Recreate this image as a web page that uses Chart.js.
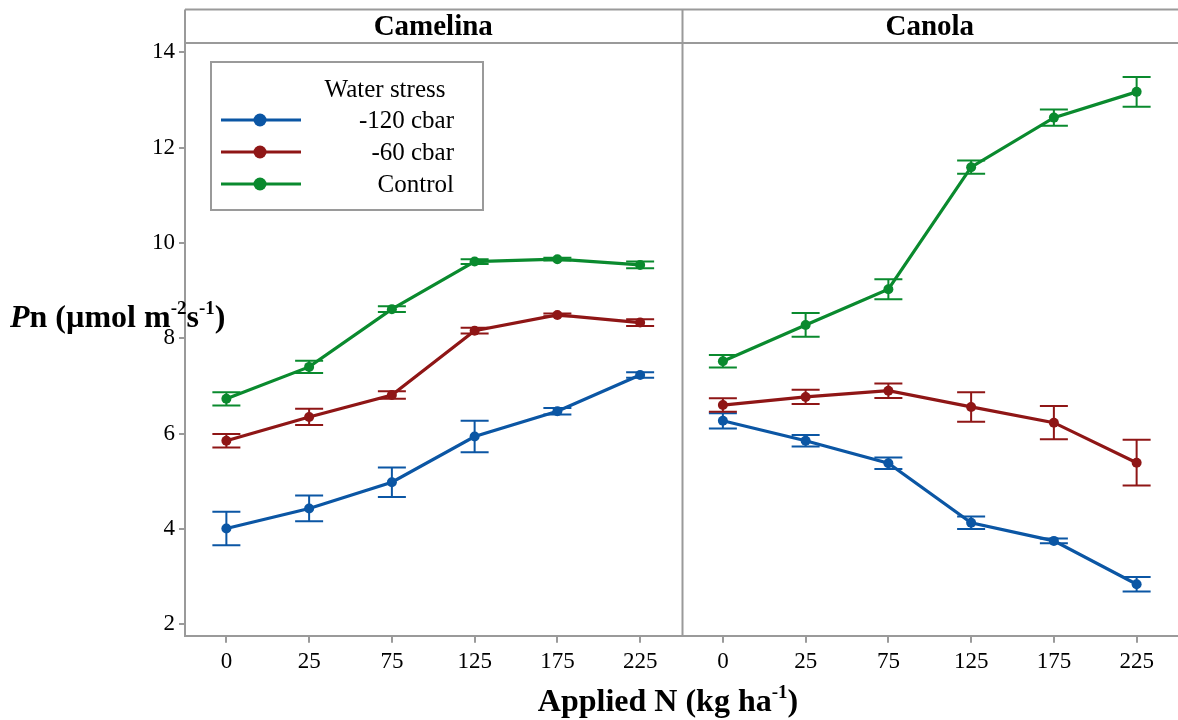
<!DOCTYPE html>
<html>
<head>
<meta charset="utf-8">
<script src="https://cdn.jsdelivr.net/npm/chart.js@4"></script>
<style>
html,body{margin:0;padding:0;background:#fff;}
#c{display:block;}
</style>
</head>
<body>
<canvas id="c" width="1178" height="720"></canvas>
<script>
const categories = ['0', '25', '75', '125', '175', '225'];
const panels = ['Camelina', 'Canola'];
const seriesNames = ['-120 cbar', '-60 cbar', 'Control'];
const legendTitle = 'Water stress';
const yTicks = [2, 4, 6, 8, 10, 12, 14];

const camelina120 = [4.01, 4.43, 4.98, 5.94, 6.47, 7.23];
const camelina120Err = [0.35, 0.27, 0.31, 0.33, 0.07, 0.06];
const camelina60 = [5.85, 6.35, 6.81, 8.16, 8.49, 8.33];
const camelina60Err = [0.14, 0.17, 0.08, 0.06, 0.03, 0.07];
const camelinaControl = [6.73, 7.40, 8.61, 9.61, 9.66, 9.54];
const camelinaControlErr = [0.14, 0.13, 0.06, 0.05, 0.03, 0.07];

const canola120 = [6.27, 5.85, 5.38, 4.13, 3.75, 2.84];
const canola120Err = [0.16, 0.12, 0.12, 0.13, 0.05, 0.15];
const canola60 = [6.60, 6.77, 6.90, 6.56, 6.23, 5.39];
const canola60Err = [0.14, 0.15, 0.15, 0.31, 0.35, 0.48];
const canolaControl = [7.52, 8.28, 9.03, 11.59, 12.63, 13.17];
const canolaControlErr = [0.13, 0.25, 0.21, 0.14, 0.17, 0.31];

const colors = ['#0b56a4', '#8f1616', '#0a8a2e'];
const SERIF = '"Liberation Serif", "Times New Roman", serif';
const GRAY = '#9a9a9a';

const panelData = [
  [[camelina120, camelina120Err], [camelina60, camelina60Err], [camelinaControl, camelinaControlErr]],
  [[canola120, canola120Err], [canola60, canola60Err], [canolaControl, canolaControlErr]]
];

const datasets = [];
panelData.forEach((series, p) => {
  series.forEach(([vals, errs], s) => {
    datasets.push({
      label: panels[p] + ' ' + seriesNames[s],
      data: vals.map((v, i) => ({x: p * categories.length + i, y: v})),
      errs: errs,
      borderColor: colors[s],
      backgroundColor: colors[s],
      borderWidth: 3.2,
      pointRadius: 5,
      pointBorderWidth: 0,
      pointBackgroundColor: colors[s],
      tension: 0,
      fill: false
    });
  });
});

const nCat = categories.length * panels.length;

const decor = {
  id: 'decor',
  beforeDatasetsDraw(chart) {
    const ctx = chart.ctx, xs = chart.scales.x, ys = chart.scales.y;
    ctx.save();
    chart.data.datasets.forEach(ds => {
      ctx.strokeStyle = ds.borderColor;
      ctx.lineWidth = 2;
      ds.data.forEach((pt, i) => {
        const e = ds.errs[i];
        const px = xs.getPixelForValue(pt.x);
        const yt = ys.getPixelForValue(pt.y + e);
        const yb = ys.getPixelForValue(pt.y - e);
        ctx.beginPath();
        ctx.moveTo(px, yt); ctx.lineTo(px, yb);
        ctx.moveTo(px - 14, yt); ctx.lineTo(px + 14, yt);
        ctx.moveTo(px - 14, yb); ctx.lineTo(px + 14, yb);
        ctx.stroke();
      });
    });
    ctx.restore();
  },
  afterDraw(chart) {
    const ctx = chart.ctx, xs = chart.scales.x, ys = chart.scales.y, ca = chart.chartArea;
    ctx.save();
    // header strip
    const hTop = 9.5, hBot = ca.top;
    ctx.strokeStyle = GRAY;
    ctx.lineWidth = 2;
    ctx.beginPath();
    ctx.moveTo(ca.left, hTop); ctx.lineTo(ca.right, hTop);
    ctx.moveTo(ca.left, hBot); ctx.lineTo(ca.right, hBot);
    ctx.moveTo(ca.left, hTop); ctx.lineTo(ca.left, hBot);
    const divX = Math.round(xs.getPixelForValue(categories.length - 0.5)) + 0.5;
    ctx.moveTo(divX, hTop); ctx.lineTo(divX, ca.bottom);
    ctx.stroke();
    ctx.fillStyle = '#000';
    ctx.font = 'bold 29px ' + SERIF;
    ctx.textAlign = 'center';
    ctx.textBaseline = 'alphabetic';
    panels.forEach((name, p) => {
      const cx = xs.getPixelForValue(p * categories.length + (categories.length - 1) / 2);
      ctx.fillText(name, cx, 35);
    });

    // legend
    ctx.fillStyle = '#fff';
    ctx.fillRect(211, 62, 272, 148);
    ctx.strokeStyle = GRAY;
    ctx.lineWidth = 2;
    ctx.strokeRect(211, 62, 272, 148);
    ctx.fillStyle = '#000';
    ctx.font = '25px ' + SERIF;
    ctx.textAlign = 'center';
    ctx.fillText(legendTitle, 385, 97);
    ctx.textAlign = 'right';
    seriesNames.forEach((name, s) => {
      const cy = 120 + s * 32;
      ctx.strokeStyle = colors[s];
      ctx.lineWidth = 3.2;
      ctx.beginPath();
      ctx.moveTo(221, cy); ctx.lineTo(301, cy);
      ctx.stroke();
      ctx.fillStyle = colors[s];
      ctx.beginPath();
      ctx.arc(260, cy, 6.5, 0, Math.PI * 2);
      ctx.fill();
      ctx.fillStyle = '#000';
      ctx.fillText(name, 454, cy + 8);
    });

    // y title
    ctx.textAlign = 'left';
    let x = 10;
    const yb = 327;
    const parts = [
      ['P', 'italic bold 32px ', 0],
      ['n (\u00b5mol m', 'bold 32px ', 0],
      ['-2', 'bold 19px ', -13],
      ['s', 'bold 32px ', 0],
      ['-1', 'bold 19px ', -13],
      [')', 'bold 32px ', 0]
    ];
    parts.forEach(([t, f, dy]) => {
      ctx.font = f + SERIF;
      ctx.fillText(t, x, yb + dy);
      x += ctx.measureText(t).width;
    });

    // x title
    const xparts = [
      ['Applied N (kg ha', 'bold 32px ', 0],
      ['-1', 'bold 19px ', -13],
      [')', 'bold 32px ', 0]
    ];
    let total = 0;
    xparts.forEach(([t, f]) => { ctx.font = f + SERIF; total += ctx.measureText(t).width; });
    x = 668 - total / 2;
    xparts.forEach(([t, f, dy]) => {
      ctx.font = f + SERIF;
      ctx.fillText(t, x, 711 + dy);
      x += ctx.measureText(t).width;
    });
    ctx.restore();
  }
};

new Chart(document.getElementById('c'), {
  type: 'line',
  data: {datasets},
  plugins: [decor],
  options: {
    responsive: false,
    animation: false,
    devicePixelRatio: 1,
    layout: {autoPadding: false, padding: {top: 43, left: 0, right: 0, bottom: 0}},
    plugins: {legend: {display: false}, tooltip: {enabled: false}, title: {display: false}},
    scales: {
      x: {
        type: 'linear',
        min: -0.5,
        max: nCat - 0.5,
        afterBuildTicks: s => { s.ticks = Array.from({length: nCat}, (_, i) => ({value: i})); },
        afterFit: s => { s.height = 84.3; s.paddingLeft = 0; s.paddingRight = 0; },
        ticks: {
          callback: v => categories[v % categories.length],
          font: {family: SERIF, size: 23},
          color: '#000',
          padding: 5,
          maxRotation: 0,
          autoSkip: false
        },
        grid: {drawOnChartArea: false, drawTicks: true, tickLength: 7, color: GRAY, lineWidth: 2},
        border: {color: GRAY, width: 2}
      },
      y: {
        type: 'linear',
        min: 1.761,
        max: 14.195,
        afterBuildTicks: s => { s.ticks = yTicks.map(v => ({value: v})); },
        afterFit: s => { s.width = 185; s.paddingTop = 0; s.paddingBottom = 0; },
        ticks: {
          font: {family: SERIF, size: 23},
          color: '#000',
          padding: 4
        },
        grid: {drawOnChartArea: false, drawTicks: true, tickLength: 6, color: GRAY, lineWidth: 2},
        border: {color: GRAY, width: 2}
      }
    }
  }
});
</script>
</body>
</html>
